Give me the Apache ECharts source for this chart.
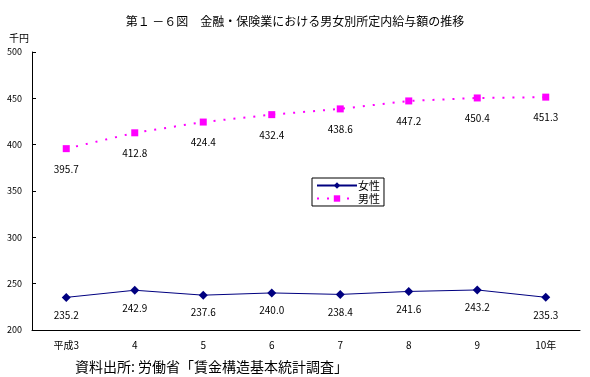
<!DOCTYPE html>
<html>
<head>
<meta charset="utf-8">
<script src="https://cdn.jsdelivr.net/npm/echarts@6/dist/echarts.min.js"></script>
<style>
html,body{margin:0;padding:0;background:#fff;}
#main{width:590px;height:377px;}
</style>
</head>
<body>
<div id="main"></div>
<script>
var years = ['平成3', '4', '5', '6', '7', '8', '9', '10年'];
var female = [235.2, 242.9, 237.6, 240.0, 238.4, 241.6, 243.2, 235.3];
var male = [395.7, 412.8, 424.4, 432.4, 438.6, 447.2, 450.4, 451.3];
var yTicks = [200, 250, 300, 350, 400, 450, 500];

var font = '"Noto Sans CJK JP", sans-serif';
var chart = echarts.init(document.getElementById('main'));
chart.setOption({
	animation: false,
	backgroundColor: '#fff',
	textStyle: {fontFamily: font},
	title: [
		{
			text: '第１ －６図　金融・保険業における男女別所定内給与額の推移',
			left: 'center',
			top: 10,
			textStyle: {fontSize: 12, fontWeight: 'normal', color: '#000', fontFamily: font}
		},
		{
			text: '千円',
			left: 4,
			top: 28,
			textStyle: {fontSize: 10, fontWeight: 'normal', color: '#000', fontFamily: font}
		},
		{
			text: '資料出所: 労働省「賃金構造基本統計調査」',
			left: 70,
			top: 355,
			textStyle: {fontSize: 14, fontWeight: 'normal', color: '#000', fontFamily: font}
		}
	],
	legend: {
		orient: 'vertical',
		left: 312,
		top: 178,
		itemGap: 2,
		itemWidth: 40,
		itemHeight: 8,
		padding: [2, 4, 2, 4],
		borderColor: '#000',
		borderWidth: 1,
		textStyle: {fontSize: 11, color: '#000', padding: [0, 0, 0, -4]},
		data: ['女性', '男性']
	},
	grid: {left: 32, right: 10, top: 52, bottom: 47},
	xAxis: {
		type: 'category',
		data: years,
		boundaryGap: true,
		axisLine: {lineStyle: {color: '#000', width: 1}},
		axisTick: {inside: true, length: 4, lineStyle: {color: '#000'}},
		axisLabel: {fontSize: 10, color: '#000', margin: 10}
	},
	yAxis: {
		type: 'value',
		min: 200,
		max: 500,
		interval: 50,
		axisLine: {show: true, lineStyle: {color: '#000', width: 1}},
		axisTick: {show: true, inside: true, length: 4, lineStyle: {color: '#000'}},
		splitLine: {show: false},
		axisLabel: {fontSize: 9, color: '#000', margin: 10}
	},
	series: [
		{
			name: '女性',
			type: 'line',
			data: female,
			color: '#000080',
			symbol: 'diamond',
			symbolSize: 9,
			lineStyle: {color: '#000080', width: 1},
			itemStyle: {color: '#000080'},
			label: {
				show: true,
				position: 'bottom',
				distance: 8,
				fontSize: 10,
				color: '#000',
				formatter: function (p) { return p.value.toFixed(1); }
			}
		},
		{
			name: '男性',
			type: 'line',
			data: male,
			color: '#ff00ff',
			symbol: 'rect',
			symbolSize: 7,
			lineStyle: {color: '#ff00ff', width: 2, type: [2, 8]},
			itemStyle: {color: '#ff00ff'},
			label: {
				show: true,
				position: 'bottom',
				distance: 12,
				fontSize: 10,
				color: '#000',
				formatter: function (p) { return p.value.toFixed(1); }
			}
		}
	]
});
</script>
</body>
</html>
